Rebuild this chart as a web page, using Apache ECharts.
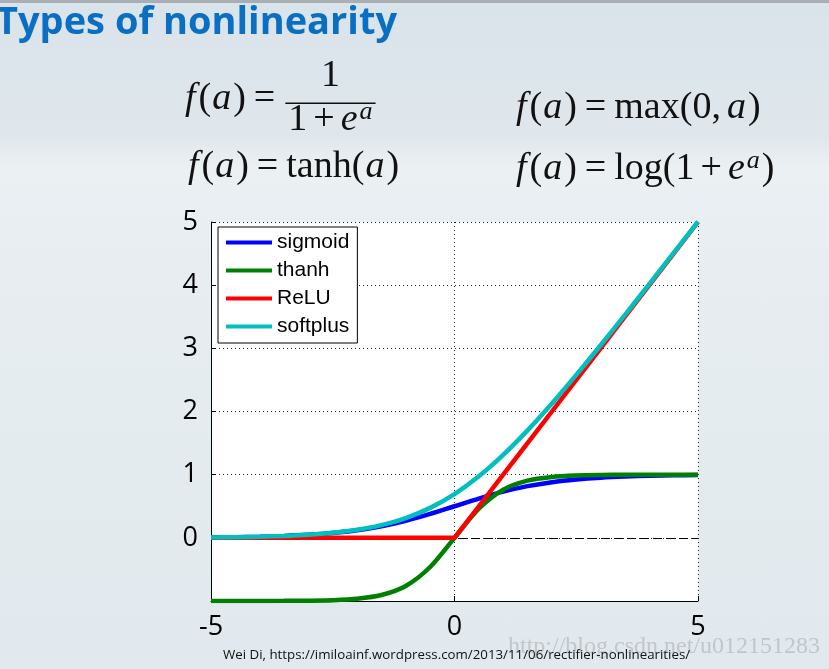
<!DOCTYPE html>
<html><head><meta charset="utf-8">
<script src="https://cdn.jsdelivr.net/npm/echarts@6/dist/echarts.min.js"></script>
<style>
html,body{margin:0;padding:0;width:829px;height:669px;overflow:hidden;
background:linear-gradient(180deg,#d9e3ea 0%,#dfe7ec 20%,#e4eaee 22%,#ebf0f3 25%,#e7edf1 40%,#e4ebef 70%,#e1e9ee 100%);}
#c{width:829px;height:669px;}
</style></head><body><div id="c"></div>
<script>
const xs = [-5,-4.5,-4,-3.5,-3,-2.5,-2,-1.5,-1,-0.5,0,0.5,1,1.5,2,2.5,3,3.5,4,4.5,5];
const sigmoidVals = [0.007,0.011,0.018,0.029,0.047,0.076,0.119,0.182,0.269,0.378,0.500,0.622,0.731,0.818,0.881,0.924,0.953,0.971,0.982,0.989,0.993];
const thanhVals = [-1.000,-1.000,-0.999,-0.998,-0.995,-0.987,-0.964,-0.905,-0.762,-0.462,0.000,0.462,0.762,0.905,0.964,0.987,0.995,0.998,0.999,1.000,1.000];
const reluVals = [0,0,0,0,0,0,0,0,0,0,0,0.5,1,1.5,2,2.5,3,3.5,4,4.5,5];
const softplusVals = [0.007,0.011,0.018,0.030,0.049,0.079,0.127,0.201,0.313,0.474,0.693,0.974,1.313,1.701,2.127,2.579,3.049,3.529,4.018,4.511,5.007];
const seriesNames = ['sigmoid','thanh','ReLU','softplus'];
const seriesColors = ['#0000ff','#008000','#ff0000','#00bfbf'];
const xTicks = [-5,0,5];
const yTicks = [0,1,2,3,4,5];

const chart = echarts.init(document.getElementById('c'), null, {renderer:'canvas'});
const cv = document.createElement('canvas').getContext('2d');
function tw(t, font){ cv.font = font; return cv.measureText(t).width; }

const MF = '"Liberation Serif", serif';
const MS = 38, SUP = 26;
function fontOf(p){ return (p.it ? 'italic ' : '') + (p.sup ? SUP : MS) + 'px ' + MF; }
function mathLine(x0, base, parts){
  const els = []; let x = x0;
  parts.forEach(p => {
    if (p.gap) { x += p.gap; return; }
    const f = fontOf(p);
    const b = p.sup ? base - 12 : base;
    els.push({type:'text', silent:true, style:{text:p.t, x:x, y:b - 0.32*(p.sup?SUP:MS), font:f, fill:'#111', verticalAlign:'middle', align:'left'}});
    x += tw(p.t, f);
  });
  return {els, end:x};
}
const fa = [{t:'f',it:true},{gap:3},{t:'('},{gap:1},{t:'a',it:true},{gap:2},{t:')'},{gap:8},{t:'='},{gap:8}];
let g = [];
// formula 1: sigmoid
let r1 = mathLine(185, 111, fa);
g = g.concat(r1.els);
const denParts = [{t:'1'},{gap:6},{t:'+'},{gap:6},{t:'e',it:true},{gap:2},{t:'a',it:true,sup:true}];
let dW = mathLine(0,0,denParts).end;
const barX = r1.end + 2, barW = dW + 6;
g.push({type:'rect', silent:true, shape:{x:barX, y:102.5, width:barW, height:1.6}, style:{fill:'#111'}});
g = g.concat(mathLine(barX + 3, 132, denParts).els);
const nW = tw('1', MS+'px '+MF);
g = g.concat(mathLine(barX + barW/2 - nW/2, 88, [{t:'1'}]).els);
// formula 2: tanh
g = g.concat(mathLine(188, 179, fa.concat([{t:'tanh('},{gap:1},{t:'a',it:true},{gap:2},{t:')'}])).els);
// formula 3: relu
g = g.concat(mathLine(516, 120, fa.concat([{t:'max(0,'},{gap:6},{t:'a',it:true},{gap:2},{t:')'}])).els);
// formula 4: softplus
g = g.concat(mathLine(516, 181, fa.concat([{t:'log(1'},{gap:6},{t:'+'},{gap:6},{t:'e',it:true},{gap:2},{t:'a',it:true,sup:true},{gap:2},{t:')'}])).els);

// title & decorations
g.unshift({type:'rect', silent:true, shape:{x:0,y:0,width:829,height:3}, style:{fill:'#a9aeb3'}});
g.push({type:'text', silent:true, style:{text:'Types of nonlinearity', x:-4, y:23, font:'bold 38px "Open Sans"', fill:'#0a6fc2', verticalAlign:'middle'}});
g.push({type:'text', silent:true, style:{text:'http://blog.csdn.net/u012151283', x:508, y:647, font:'24px "Liberation Serif"', fill:'rgba(165,170,175,0.55)', verticalAlign:'middle'}});
g.push({type:'text', silent:true, style:{text:'Wei Di, https://imiloainf.wordpress.com/2013/11/06/rectifier-nonlinearities/', x:223, y:655, font:'13.3px "Open Sans"', fill:'#111', verticalAlign:'middle'}});

const lineSeries = [sigmoidVals, thanhVals, reluVals, softplusVals].map((vals, i) => ({
  name: seriesNames[i], type:'line', showSymbol:false, silent:true,
  smooth: i === 2 ? false : 0.3,
  data: xs.map((x, k) => [x, vals[k]]),
  lineStyle:{color:seriesColors[i], width:4.5}, itemStyle:{color:seriesColors[i]},
  z: 3 + i
}));

chart.setOption({
  animation:false,
  backgroundColor:'transparent',
  graphic: g,
  grid:{left:211, top:222, width:487, height:379, show:true, backgroundColor:'#fff', borderWidth:0},
  legend:{data:seriesNames, orient:'vertical', left:218, top:227, icon:'rect', itemWidth:46, itemHeight:4, itemGap:7,
    padding:[5,8,6,8], backgroundColor:'#fff', borderColor:'#000', borderWidth:1, borderRadius:0, z:20,
    textStyle:{fontSize:21, fontFamily:'"Liberation Sans", Arial', color:'#000', lineHeight:19}},
  xAxis:{type:'value', min:-5, max:5, interval:5,
    axisLine:{show:true, onZero:false, lineStyle:{color:'#000', width:1}},
    axisTick:{show:true, inside:true, length:5, lineStyle:{color:'#000'}},
    axisLabel:{fontSize:27, color:'#000', fontFamily:'"Open Sans"', margin:13,
      formatter: v => xTicks.includes(v) ? String(v) : ''},
    splitLine:{show:true, lineStyle:{type:[1,3], color:'#222', width:1}}},
  yAxis:{type:'value', min:-1, max:5, interval:1,
    axisLine:{show:true, onZero:false, lineStyle:{color:'#000', width:1}},
    axisTick:{show:true, inside:true, length:5, lineStyle:{color:'#000'}},
    axisLabel:{fontSize:27, color:'#000', fontFamily:'"Open Sans"', margin:13,
      formatter: v => yTicks.includes(v) ? String(v) : ''},
    splitLine:{show:true, lineStyle:{type:[1,3], color:'#222', width:1}}},
  series:[{type:'line', data:[], silent:true, z:2,
    markLine:{silent:true, symbol:'none', label:{show:false}, animation:false,
      lineStyle:{type:[9,4], color:'#000', width:1}, data:[{yAxis:0}]}}].concat(lineSeries)
});
</script></body></html>
